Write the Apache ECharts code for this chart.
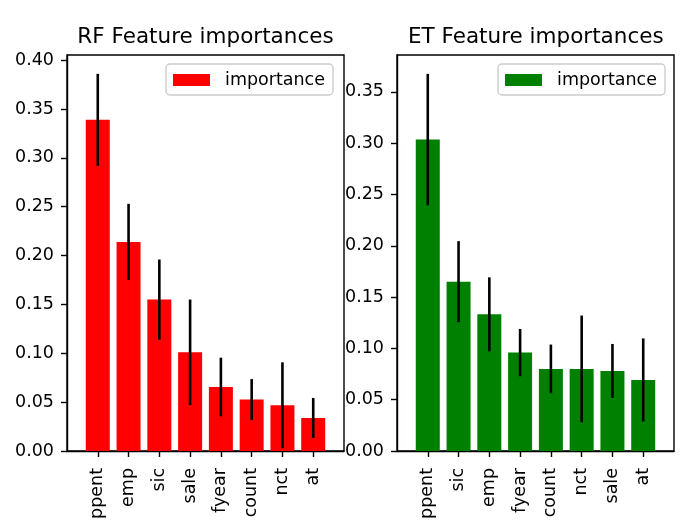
<!DOCTYPE html>
<html>
<head>
<meta charset="utf-8">
<script src="https://cdn.jsdelivr.net/npm/echarts@6.0.0/dist/echarts.min.js"></script>
<style>
    html, body { margin: 0; padding: 0; background: #fff; }
    #chart { width: 700px; height: 528px; }
</style>
</head>
<body>
<div id="chart"></div>
<script>
// RF panel
var rfFeatures = ['ppent', 'emp', 'sic', 'sale', 'fyear', 'count', 'nct', 'at'];
var rfImportance = [0.339, 0.214, 0.155, 0.101, 0.0655, 0.0526, 0.0468, 0.0338];
var rfStd = [0.047, 0.039, 0.041, 0.054, 0.030, 0.021, 0.044, 0.0205];

// ET panel
var etFeatures = ['ppent', 'sic', 'emp', 'fyear', 'count', 'nct', 'sale', 'at'];
var etImportance = [0.3035, 0.165, 0.1332, 0.0959, 0.080, 0.080, 0.078, 0.0692];
var etStd = [0.064, 0.0395, 0.036, 0.023, 0.0237, 0.052, 0.0263, 0.0405];

var yTicks = [0, 0.05, 0.10, 0.15, 0.20, 0.25, 0.30, 0.35, 0.40];
var xTicks = [0, 1, 2, 3, 4, 5, 6, 7];

var font = 'DejaVu Sans';
var chart = echarts.init(document.getElementById('chart'));

// same as matplotlib autoscale: top of highest error bar + 5% margin
function yMax(vals, std) {
    var m = 0;
    vals.forEach(function (v, i) { m = Math.max(m, v + std[i]); });
    return m * 1.05;
}

function xAxisFor(idx, names) {
    return {
        type: 'value', gridIndex: idx, min: -1, max: 8,
        splitLine: {show: false},
        axisLine: {show: true, onZero: false, lineStyle: {color: '#000', width: 1.4}},
        axisTick: {show: true, length: 6, lineStyle: {color: '#000', width: 1.4}, customValues: xTicks},
        axisLabel: {
            customValues: xTicks, rotate: 90, margin: 17,
            color: '#000', fontFamily: font, fontSize: 17.5,
            formatter: function (v) { return names[Math.round(v)] || ''; }
        }
    };
}

function yAxisFor(idx, max) {
    var ticks = yTicks.filter(function (t) { return t <= max; });
    return {
        type: 'value', gridIndex: idx, min: 0, max: max,
        splitLine: {show: false},
        axisLine: {show: true, onZero: false, lineStyle: {color: '#000', width: 1.4}},
        axisTick: {show: true, length: 6, lineStyle: {color: '#000', width: 1.4}, customValues: ticks},
        axisLabel: {
            customValues: ticks, margin: 13,
            color: '#000', fontFamily: font, fontSize: 17.5,
            formatter: function (v) { return v.toFixed(2); }
        }
    };
}

function barSeries(idx, name, vals, color) {
    return {
        name: name, type: 'bar', xAxisIndex: idx, yAxisIndex: idx,
        barWidth: 24,
        itemStyle: {color: color},
        data: vals.map(function (v, i) { return [i, v]; })
    };
}

function errSeries(idx, vals, std) {
    return {
        type: 'custom', xAxisIndex: idx, yAxisIndex: idx, z: 5,
        silent: true,
        renderItem: function (params, api) {
            var x = api.value(0), v = api.value(1), s = api.value(2);
            var p1 = api.coord([x, v - s]);
            var p2 = api.coord([x, v + s]);
            return {
                type: 'line',
                shape: {x1: p1[0], y1: p1[1], x2: p2[0], y2: p2[1]},
                style: {stroke: '#000', lineWidth: 2.6}
            };
        },
        data: vals.map(function (v, i) { return [i, v, std[i]]; })
    };
}

function legendFor(name, right) {
    return {
        data: [name], right: right, top: 64, orient: 'vertical',
        icon: 'rect', itemWidth: 37, itemHeight: 12,
        selectedMode: false,
        backgroundColor: 'rgba(255,255,255,0.8)',
        borderColor: '#cccccc', borderWidth: 1.4, borderRadius: 4,
        padding: [7, 8, 6, 7],
        formatter: function () { return 'importance'; },
        textStyle: {color: '#000', fontFamily: font, fontSize: 17.5, padding: [0, 0, 0, 10]}
    };
}

var option = {
    animation: false,
    backgroundColor: '#fff',
    title: [
        {text: 'RF Feature importances', left: 205.5, top: 26, textAlign: 'center', padding: 0,
            textStyle: {color: '#000', fontFamily: font, fontSize: 21.5, fontWeight: 'normal'}},
        {text: 'ET Feature importances', left: 535.8, top: 26, textAlign: 'center', padding: 0,
            textStyle: {color: '#000', fontFamily: font, fontSize: 21.5, fontWeight: 'normal'}}
    ],
    legend: [
        legendFor('RF importance', 367),
        legendFor('ET importance', 35)
    ],
    grid: [
        {left: 67, top: 55, width: 277, height: 396, show: true, borderColor: '#000', borderWidth: 1.4},
        {left: 397, top: 55, width: 277, height: 396, show: true, borderColor: '#000', borderWidth: 1.4}
    ],
    xAxis: [xAxisFor(0, rfFeatures), xAxisFor(1, etFeatures)],
    yAxis: [yAxisFor(0, yMax(rfImportance, rfStd)), yAxisFor(1, yMax(etImportance, etStd))],
    series: [
        barSeries(0, 'RF importance', rfImportance, '#ff0000'),
        errSeries(0, rfImportance, rfStd),
        barSeries(1, 'ET importance', etImportance, '#008000'),
        errSeries(1, etImportance, etStd)
    ]
};

chart.setOption(option);
</script>
</body>
</html>
